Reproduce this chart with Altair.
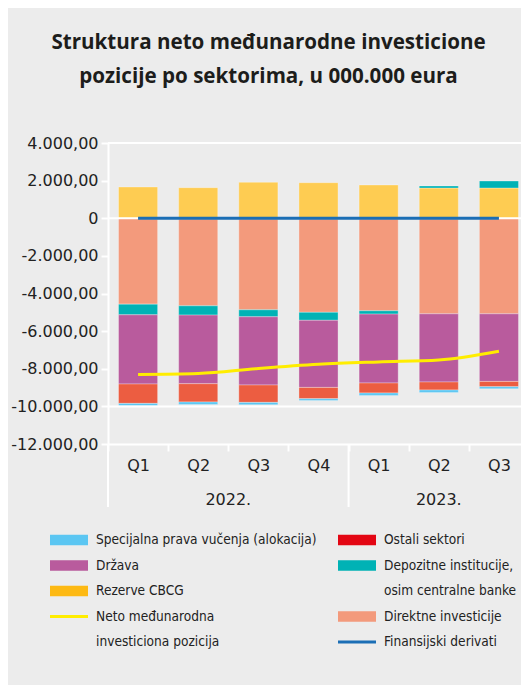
import altair as alt
import pandas as pd

# ---------------- data ----------------
quarters = ["Q1", "Q2", "Q3", "Q4", "Q1", "Q2", "Q3"]
years = ["2022.", "2022.", "2022.", "2022.", "2023.", "2023.", "2023."]

rezerve = [1661, 1625, 1911, 1890, 1768, 1608, 1608]
direktne = [-4565, -4655, -4867, -5000, -4920, -5080, -5080]
depozitne = [-568, -494, -372, -425, -176, 107, 372]
drzava = [-3678, -3646, -3625, -3567, -3662, -3625, -3593]
ostali = [-1030, -972, -924, -599, -531, -425, -282]
sdr = [-122, -127, -122, -91, -127, -127, -106]
neto = [-8300, -8250, -7985, -7765, -7635, -7530, -7065]
derivati = [-6, -5, -5, -4, -4, -3, -3]

series_names = [
    "Rezerve CBCG",
    "Direktne investicije",
    "Depozitne institucije, osim centralne banke",
    "Država",
    "Ostali sektori",
    "Specijalna prava vučenja (alokacija)",
]
series_values = [rezerve, direktne, depozitne, drzava, ostali, sdr]
bar_colors = ["#FECC52", "#F39A7C", "#00B2B5", "#B95B9D", "#EC5D41", "#5BC6F2"]

y_ticks = [4000, 2000, 0, -2000, -4000, -6000, -8000, -10000, -12000]
grid_values = [4000, 0, -10000]

keys = [f"{y}|{q}" for y, q in zip(years, quarters)]

rows = []
for i, k in enumerate(keys):
    for j, (name, vals) in enumerate(zip(series_names, series_values)):
        rows.append({"key": k, "series": name, "value": vals[i], "ord": j})
bars_df = pd.DataFrame(rows)
lines_df = pd.DataFrame({"key": keys, "neto": neto, "der": derivati})
grid_df = pd.DataFrame({"value": grid_values})

# ---------------- styling ----------------
AXIS_FONT = "DejaVu Sans"
LEG_FONT = "DejaVu Sans Condensed, DejaVu Sans, sans-serif"
TXT = "#222222"
W, H = 413, 301          # visible plot area (the band range runs a bit past the edge, as in the original)
BAND_RANGE = 421

xscale = alt.Scale(domain=keys, paddingInner=0, paddingOuter=0, range=[0, BAND_RANGE])
yscale = alt.Scale(domain=[-12000, 4000], nice=False, zero=False)

x_axis = alt.Axis(
    title=None, labelExpr="split(datum.label, '|')[1]", tickBand="extent",
    tickColor="white", tickWidth=2, tickSize=7, domainColor="white", domainWidth=2,
    labelFont=AXIS_FONT, labelFontSize=16, labelColor=TXT, labelAngle=0,
    labelBaseline="alphabetic", labelPadding=19, grid=False,
)
y_axis = alt.Axis(
    title=None, values=y_ticks,
    labelExpr=("datum.value == 0 ? '0' : replace(replace(replace(replace("
               "format(datum.value, ',.2f'), ',', '#'), '.', ','), '#', '.'), '\u2212', '-')"),
    tickColor="white", tickWidth=2, tickSize=7, domainColor="white", domainWidth=2,
    labelFont=AXIS_FONT, labelFontSize=16, labelColor=TXT, labelPadding=3, grid=False,
)


def X(field="key:N", **kw):
    return alt.X(field, scale=xscale, axis=x_axis, title=None, **kw)


def Y(field):
    return alt.Y(field, scale=yscale, axis=y_axis, title=None)


bars = alt.Chart(bars_df).mark_bar(
    width=alt.RelativeBandSize(0.65), stroke="white", strokeOpacity=0.3, strokeWidth=1
).encode(
    x=X(),
    y=Y("value:Q"),
    color=alt.Color("series:N", scale=alt.Scale(domain=series_names, range=bar_colors), legend=None),
    order=alt.Order("ord:Q"),
)

grid = alt.Chart(grid_df).mark_rule(color="white", strokeWidth=2).encode(y=Y("value:Q"))

neto_line = alt.Chart(lines_df).mark_line(color="#FFED00", strokeWidth=3, interpolate="monotone").encode(
    x=X(), y=Y("neto:Q")
)
der_line = alt.Chart(lines_df).mark_line(color="#1B6EB5", strokeWidth=3).encode(
    x=X(), y=Y("der:Q")
)

# axis extensions (multi-level category axis)
yext = alt.Chart(pd.DataFrame({"a": [0]})).mark_rule(color="white", strokeWidth=2).encode(
    x=alt.value(0), y=alt.value(H), y2=alt.value(364)
)
sep = alt.Chart(pd.DataFrame({"key": [keys[4]]})).mark_rule(color="white", strokeWidth=2).encode(
    x=X(bandPosition=0), y=alt.value(H), y2=alt.value(364)
)
year1 = alt.Chart(pd.DataFrame({"key": [keys[2]], "t": [years[0]]})).mark_text(
    font=AXIS_FONT, fontSize=16, color=TXT, baseline="alphabetic", align="center"
).encode(x=X(bandPosition=0), y=alt.value(362), text="t:N")
year2 = alt.Chart(pd.DataFrame({"key": [keys[5]], "t": [years[4]]})).mark_text(
    font=AXIS_FONT, fontSize=16, color=TXT, baseline="alphabetic", align="center"
).encode(x=X(bandPosition=0.5), y=alt.value(362), text="t:N")

title = alt.Chart(pd.DataFrame({"a": [0]})).mark_text(
    font="Open Sans", fontSize=20.6, fontWeight="bold", color="#1d1d1b",
    align="center", baseline="alphabetic", lineHeight=34,
).encode(
    x=alt.value(160.5), y=alt.value(-94),
    text=alt.value(["Struktura neto međunarodne investicione",
                    "pozicije po sektorima, u 000.000 eura"]),
)

# ---------------- manual legend ----------------
legend_entries = [
    # (column, row, kind, color, text lines)
    (0, 0, "rect", "#5BC6F2", ["Specijalna prava vučenja (alokacija)"]),
    (0, 1, "rect", "#B95B9D", ["Država"]),
    (0, 2, "rect", "#FDB913", ["Rezerve CBCG"]),
    (0, 3, "line", "#FFED00", ["Neto međunarodna", "investiciona pozicija"]),
    (1, 0, "rect", "#E30613", ["Ostali sektori"]),
    (1, 1, "rect", "#00B2B5", ["Depozitne institucije,", "osim centralne banke"]),
    (1, 3, "rect", "#F39A7C", ["Direktne investicije"]),
    (1, 4, "line", "#1B6EB5", ["Finansijski derivati"]),
]
col_x0 = [-58, 230]
sw_w = 38
row_y0, row_step = 397, 25.5
one = pd.DataFrame({"a": [0]})
legend_layers = []
for col, row, kind, colr, lines in legend_entries:
    x0 = col_x0[col]
    yc = row_y0 + row_step * row
    if kind == "rect":
        legend_layers.append(alt.Chart(one).mark_rect(color=colr).encode(
            x=alt.value(x0), x2=alt.value(x0 + sw_w), y=alt.value(yc - 5.3), y2=alt.value(yc + 5.3)))
    else:
        legend_layers.append(alt.Chart(one).mark_rule(color=colr, strokeWidth=3).encode(
            x=alt.value(x0), x2=alt.value(x0 + sw_w), y=alt.value(yc)))
    for li, t in enumerate(lines):
        legend_layers.append(alt.Chart(one).mark_text(
            font=LEG_FONT, fontSize=13.6, color=TXT, align="left", baseline="middle"
        ).encode(x=alt.value(x0 + sw_w + 8), y=alt.value(yc + row_step * li), text=alt.value(t)))

chart = alt.layer(
    bars, grid, der_line, neto_line, yext, sep, year1, year2, title, *legend_layers
).properties(
    width=W, height=H,
    padding={"left": 100, "top": 135, "right": 0, "bottom": 241},
    autosize=alt.AutoSizeParams(type="none"),
    background="#ececec",
).configure_view(stroke=None)

chart.save("out.html", embed_options={"renderer": "svg", "actions": False})
